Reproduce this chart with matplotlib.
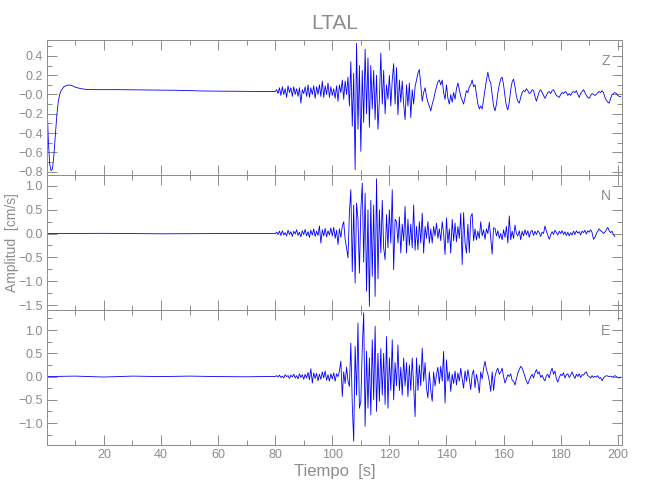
import numpy as np
import matplotlib
matplotlib.use("Agg")
import matplotlib.pyplot as plt
from matplotlib.ticker import MultipleLocator, FixedLocator, FixedFormatter

plt.rcParams['font.family'] = ['Liberation Sans', 'DejaVu Sans']
GRAY = "#8c8c8c"
BLUE = "#0000ff"

# --- pre-event part (read at coarse steps) ---
z_pre_t = [0, 0.5, 1, 1.5, 2, 2.5, 3, 3.5, 4, 4.5, 5, 6, 7, 8, 9, 10, 12, 14, 17,
           20, 25, 30, 35, 40, 45, 50, 55, 60, 65, 70, 75]
z_pre = [0.0, -0.45, -0.72, -0.79, -0.77, -0.62, -0.42, -0.22, -0.08, 0.0, 0.04,
         0.08, 0.095, 0.098, 0.09, 0.075, 0.06, 0.052, 0.05, 0.05, 0.05, 0.048,
         0.046, 0.045, 0.044, 0.04, 0.036, 0.035, 0.034, 0.033, 0.032]
n_pre_t = [0, 20, 40, 60, 75]
n_pre = [0.0, 0.005, -0.005, 0.0, 0.0]
e_pre_t = [0, 10, 20, 30, 40, 50, 60, 70, 75]
e_pre = [0.0, 0.01, -0.01, 0.01, 0.0, 0.01, 0.0, -0.005, 0.0]

# --- event part, sampled every 0.5 s from 80 s ---
z_evt = [
    0.03, 0.05, 0.01, 0.07, -0.01, 0.08, 0.0, 0.06, -0.03, 0.09, 0.02, 0.07, -0.02, 0.08, 0.0, 0.06, -0.02, 0.07, -0.09, 0.05,
    0.01, 0.08, -0.02, 0.1, -0.03, 0.07, 0.0, 0.09, -0.04, 0.08, 0.0, 0.1, -0.02, 0.14, -0.03, 0.09, 0.0, 0.12, -0.03, 0.08,
    -0.01, 0.06, -0.04, 0.09, -0.07, 0.1, 0.02, 0.15, -0.05, 0.14, 0.0, 0.18, -0.12, 0.34, -0.33, 0.22, -0.78, 0.53, -0.36, 0.3,
    -0.59, 0.25, -0.29, 0.47, -0.2, 0.38, -0.34, 0.3, -0.15, 0.25, -0.26, 0.2, -0.36, -0.05, 0.43, -0.1, 0.25, -0.2, 0.1, -0.05,
    0.2, -0.12, 0.15, 0.32, -0.1, 0.28, -0.21, 0.15, -0.08, 0.14, -0.1, -0.26, 0.1, -0.12, 0.12, -0.24, 0.05, -0.1, 0.08, 0.15,
    0.22, 0.26, 0.1, -0.07, 0.02, 0.07, -0.02, -0.08, -0.12, -0.17, -0.1, -0.05, 0.02, 0.08, 0.13, 0.15, 0.1, 0.15, 0.02, -0.05,
    0.1, -0.04, -0.1, 0.0, -0.08, 0.02, -0.05, 0.06, 0.12, 0.05, -0.02, -0.06, -0.1, -0.03, 0.04, 0.02, 0.08, 0.1, 0.15, 0.08,
    0.1, 0.0, -0.1, -0.15, -0.12, -0.15, -0.05, 0.05, 0.15, 0.23, 0.15, 0.12, 0.0, -0.12, -0.17, -0.1, 0.02, 0.1, 0.16, 0.18,
    0.1, -0.02, -0.12, -0.16, -0.08, 0.05, 0.13, 0.16, 0.08, -0.02, -0.07, -0.09, -0.03, 0.02, 0.04, 0.03, 0.06, 0.04, 0.01, 0.02,
    0.05, 0.04, -0.02, -0.07, -0.02, 0.03, 0.05, 0.02, -0.01, -0.04, -0.01, 0.02, 0.03, 0.01, 0.04, 0.05, 0.02, -0.01, -0.02, -0.03,
    0.0, 0.02, 0.01, 0.03, 0.02, -0.01, 0.01, -0.01, 0.02, 0.03, 0.02, 0.04, 0.0, -0.03, 0.01, 0.03, 0.05, 0.02, -0.01, -0.03,
    -0.04, -0.01, 0.01, 0.0, -0.01, 0.0, 0.02, 0.03, 0.02, 0.04, 0.02, -0.03, -0.06, -0.08, -0.09, -0.04, 0.0, 0.01, 0.02, 0.01,
    -0.01, -0.02, -0.02,
]
n_evt = [
    0.0, 0.03, -0.02, 0.05, -0.04, 0.06, -0.03, 0.02, -0.05, 0.07, -0.02, 0.04, -0.06, 0.05, -0.01, 0.08, -0.04, 0.03, -0.07, 0.06,
    -0.02, 0.09, -0.05, 0.04, -0.08, 0.07, -0.03, 0.1, -0.06, 0.05, -0.04, 0.16, -0.2, 0.08, -0.05, 0.11, -0.07, 0.06, -0.03, 0.12,
    -0.05, 0.13, -0.1, 0.07, -0.23, 0.1, -0.08, 0.15, 0.25, -0.12, -0.3, -0.51, 0.45, 0.92, -0.8, 0.6, -1.04, 0.64, 0.3, -0.83,
    0.5, 1.06, -0.6, 0.85, -1.21, 0.5, -1.53, 0.7, -0.9, 0.6, -1.32, 1.15, -0.95, 0.5, -0.4, 0.7, -0.3, -0.55, 0.4, -0.3,
    0.5, -0.2, 0.92, -0.76, 0.3, 0.25, -0.2, 0.35, -0.41, 0.2, -0.15, 0.57, -0.41, 0.3, -0.25, 0.2, -0.3, 0.6, -0.35, 0.15,
    -0.34, 0.25, -0.2, 0.43, -0.41, 0.15, -0.1, 0.25, -0.2, 0.1, -0.2, 0.15, -0.05, 0.22, -0.1, 0.1, -0.15, 0.25, 0.0, -0.44,
    0.33, -0.2, 0.1, -0.41, 0.3, -0.15, 0.22, -0.17, 0.15, -0.1, 0.43, -0.65, 0.44, -0.2, -0.41, 0.2, -0.4, 0.35, 0.42, -0.15,
    0.1, -0.13, 0.05, -0.1, 0.25, -0.05, 0.08, -0.12, 0.1, 0.0, 0.24, -0.1, -0.43, 0.12, 0.11, -0.05, 0.06, -0.1, 0.0, -0.13,
    0.08, -0.08, 0.15, -0.2, 0.37, -0.13, 0.05, -0.1, 0.18, 0.0, -0.05, 0.06, -0.13, 0.05, -0.05, 0.08, -0.03, 0.06, -0.08, 0.04,
    0.07, -0.04, 0.05, -0.02, 0.06, 0.02, -0.06, 0.03, 0.0, 0.16, 0.05, -0.04, -0.12, -0.03, 0.04, -0.02, 0.07, 0.02, -0.03, 0.05,
    0.0, 0.06, -0.02, 0.04, -0.04, 0.03, -0.05, 0.02, -0.03, 0.05, -0.02, 0.06, 0.01, 0.04, -0.03, 0.05, 0.02, 0.07, -0.01, 0.06,
    0.03, 0.08, 0.02, -0.12, -0.08, 0.0, 0.05, 0.1, 0.06, 0.04, 0.0, 0.03, 0.08, 0.13, 0.06, 0.02, 0.05, -0.03, -0.06,
]
e_evt = [
    0.0, 0.02, -0.01, 0.03, -0.02, 0.01, -0.03, 0.04, 0.0, 0.02, -0.04, 0.03, -0.01, 0.05, -0.03, 0.02, -0.05, 0.06, -0.02, 0.04,
    -0.06, 0.05, -0.03, 0.09, -0.07, 0.17, -0.14, 0.08, -0.04, 0.07, -0.09, 0.05, -0.06, 0.1, -0.03, 0.12, -0.08, 0.04, -0.1, 0.06,
    -0.05, 0.08, -0.1, 0.06, 0.0, 0.12, 0.33, -0.43, 0.1, -0.15, 0.2, -0.1, -0.21, 0.72, -0.6, -1.39, 0.65, -0.4, 1.15, -0.68,
    -0.53, 0.6, 1.37, -1.07, 0.55, -0.68, 0.4, -0.82, 0.79, -0.5, 1.08, -0.75, 0.5, -0.53, 0.6, -0.4, 0.5, -0.6, 0.86, -0.68,
    0.4, -0.3, 0.79, -0.5, 0.3, -0.2, 0.68, -0.3, 0.2, -0.4, 0.4, -0.2, 0.3, -0.43, 0.25, -0.3, 0.4, -0.2, -0.86, 0.4,
    -0.3, 0.25, -0.2, 0.61, -0.1, 0.3, -0.25, -0.46, 0.1, -0.3, -0.53, 0.1, -0.2, 0.04, 0.2, -0.15, 0.22, -0.1, 0.54, -0.57,
    0.36, -0.1, 0.1, -0.32, 0.05, -0.15, 0.12, -0.18, 0.08, -0.1, 0.18, -0.05, -0.25, 0.12, -0.1, 0.15, -0.05, -0.28, 0.05, 0.14,
    -0.24, 0.05, -0.1, -0.35, 0.1, -0.05, 0.18, 0.33, 0.15, 0.05, -0.1, -0.32, 0.1, -0.3, 0.0, 0.12, 0.18, 0.05, 0.1, 0.18,
    0.0, -0.14, -0.05, 0.04, 0.0, 0.06, -0.08, -0.1, -0.18, -0.05, 0.08, 0.15, 0.22, 0.18, 0.1, 0.0, -0.1, -0.16, -0.08, 0.0,
    0.05, -0.03, 0.08, 0.15, 0.06, 0.1, -0.02, 0.03, -0.05, -0.09, 0.02, 0.05, -0.03, 0.1, 0.18, 0.05, 0.12, -0.05, -0.12, -0.02,
    0.05, 0.02, 0.08, -0.03, 0.04, 0.06, -0.02, 0.03, 0.1, 0.02, -0.04, 0.05, 0.0, 0.06, -0.02, 0.04, 0.03, 0.08, 0.1, 0.02,
    0.0, -0.03, 0.02, -0.02, 0.01, -0.01, 0.02, -0.04, -0.02, -0.09, -0.03, 0.0, 0.02, 0.01, 0.0, 0.01, -0.01, 0.0, 0.02, 0.0,
    -0.02, -0.03, -0.01,
]

components = ["Z", "N", "E"]
y_limits = [(-0.835, 0.565), (-1.605, 1.23), (-1.47, 1.43)]
y_ticks = [[-0.8, -0.6, -0.4, -0.2, 0.0, 0.2, 0.4],
           [-1.5, -1.0, -0.5, 0.0, 0.5, 1.0],
           [-1.0, -0.5, 0.0, 0.5, 1.0]]
y_ticklabels = [["\u22120.8", "\u22120.6", "\u22120.4", "\u22120.2", "\u22120.0", "0.2", "0.4"],
                ["\u22121.5", "\u22121.0", "\u22120.5", "0.0", "0.5", "1.0"],
                ["\u22121.0", "\u22120.5", "0.0", "0.5", "1.0"]]
y_minor = [0.1, 0.25, 0.25]
x_ticks = [20, 40, 60, 80, 100, 120, 140, 160, 180, 200]


def trace(pre_t, pre_v, evt_v):
    t_evt = 80 + 0.5 * np.arange(len(evt_v))
    return np.concatenate([pre_t, t_evt]), np.concatenate([pre_v, evt_v])


traces = [trace(z_pre_t, z_pre, z_evt),
          trace(n_pre_t, n_pre, n_evt),
          trace(e_pre_t, e_pre, e_evt)]

fig, axes = plt.subplots(3, 1, sharex=True, figsize=(6.5, 5), dpi=100)
plt.subplots_adjust(left=0.072, right=0.957, top=0.92, bottom=0.11, hspace=0)

for i, ax in enumerate(axes):
    t, v = traces[i]
    ax.plot(t, v, color=BLUE, lw=0.6)
    ax.set_xlim(0, 201.5)
    ax.set_ylim(*y_limits[i])
    ax.yaxis.set_major_locator(FixedLocator(y_ticks[i]))
    ax.yaxis.set_major_formatter(FixedFormatter(y_ticklabels[i]))
    ax.yaxis.set_minor_locator(MultipleLocator(y_minor[i]))
    ax.xaxis.set_major_locator(FixedLocator(x_ticks))
    ax.xaxis.set_minor_locator(MultipleLocator(10))
    ax.tick_params(which="both", direction="in", top=True, right=True,
                   colors=GRAY, labelcolor=GRAY, labelsize=9, width=0.7, pad=3)
    ax.tick_params(which="major", length=7)
    ax.tick_params(which="minor", length=3.5)
    for sp in ax.spines.values():
        sp.set_color(GRAY)
        sp.set_linewidth(0.7)
    ax.text(0.972, 0.845, components[i], transform=ax.transAxes, color=GRAY,
            fontsize=10, ha="center", va="center")

axes[0].set_title("LTAL", color=GRAY, fontsize=15, pad=8)
fig.text(0.018, 0.515, "Amplitud  [cm/s]", color=GRAY, fontsize=10,
         rotation=90, ha="center", va="center")
axes[2].set_xlabel("Tiempo  [s]", color=GRAY, fontsize=12, labelpad=2)

plt.savefig("out.png", dpi=100)
